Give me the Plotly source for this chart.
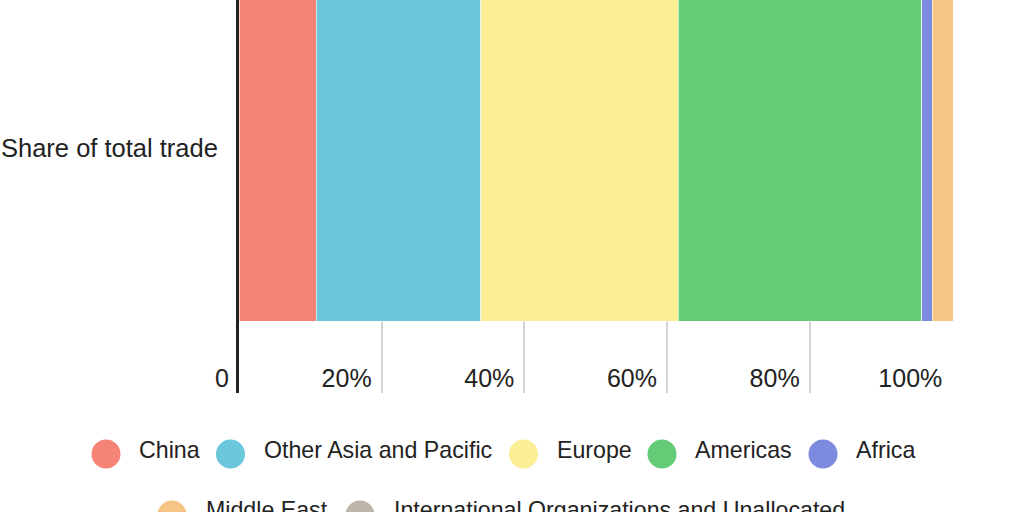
import plotly.graph_objects as go

# ================== DATA ==================
category = ["Share of total trade"]
regions = ["China", "Other Asia and Pacific", "Europe", "Americas", "Africa",
           "Middle East", "International Organizations and Unallocated"]
shares = [10.8, 23.1, 27.7, 34.1, 1.5, 2.9, 0.0]
colors = ["#F58476", "#6AC7DC", "#FBEE94", "#64CB76", "#7C8BE0", "#F4C583", "#BDB5A9"]
tick_vals = [0, 20, 40, 60, 80, 100]
tick_labels = ["0", "20%", "40%", "60%", "80%", "100%"]

# legend layout, in page pixels (circle centre x, text left x, row)
legend_circle_x = [106, 230.5, 523.5, 662, 823, 172, 360]
legend_text_x = [139, 264, 557, 695, 856, 206, 394]
legend_row = [0, 0, 0, 0, 0, 1, 1]
row_circle_y = [454, 515]
row_text_y = [450, 510]

W, H = 1024, 512
M_L, M_R, M_T, M_B = 239, 71, 0, 119
TEXT = "#222222"
FONT = "Liberation Sans"

fig = go.Figure()
for name, val, col in zip(regions, shares, colors):
    fig.add_trace(go.Bar(y=category, x=[val], name=name, orientation="h", width=1,
                         marker=dict(color=col, line=dict(color="white", width=0.6))))

def px(x):
    return (x - M_L) / (W - M_L - M_R)

def py(y):
    return (H - M_B - y) / (H - M_T - M_B)

for i, name in enumerate(regions):
    r = legend_row[i]
    fig.add_shape(type="circle", xref="paper", yref="paper", xsizemode="pixel", ysizemode="pixel",
                  xanchor=px(legend_circle_x[i]), yanchor=py(row_circle_y[r]),
                  x0=-14.5, x1=14.5, y0=-14.5, y1=14.5,
                  fillcolor=colors[i], line_width=0)
    fig.add_annotation(xref="paper", yref="paper", x=px(legend_text_x[i]), y=py(row_text_y[r]),
                       text=name, showarrow=False, xanchor="left", yanchor="middle",
                       xshift=-2, font=dict(size=23.2, color=TEXT, family=FONT))

fig.update_layout(
    width=W, height=H,
    margin=dict(l=M_L, r=M_R, t=M_T, b=M_B, pad=0),
    barmode="stack",
    showlegend=False,
    plot_bgcolor="white", paper_bgcolor="white",
    font=dict(family=FONT, size=25, color=TEXT),
)
fig.update_xaxes(range=[0, 100.1], tickvals=tick_vals, ticktext=tick_labels,
                 ticklabelposition="inside left", ticklabeloverflow="allow",
                 ticklabelstandoff=-5, ticklabelshift=-10,
                 tickfont=dict(size=25, color=TEXT),
                 ticks="", showgrid=True, gridcolor="#d4d4d4", gridwidth=2,
                 zeroline=False, showline=False, layer="below traces")
fig.update_yaxes(range=[-0.708, 0.428], type="category", ticks="outside", ticklen=13,
                 tickcolor="rgba(0,0,0,0)", showgrid=False, zeroline=False,
                 showline=True, linecolor="#222222", linewidth=3,
                 tickfont=dict(size=25.5, color=TEXT))

fig.write_html("out.html", config={"displayModeBar": False},
               post_script="document.body.style.margin='0';document.body.style.overflow='hidden';")
